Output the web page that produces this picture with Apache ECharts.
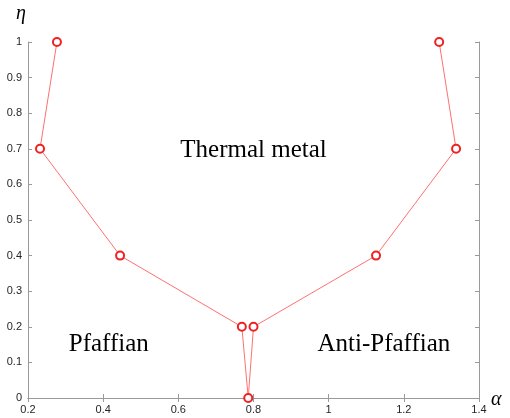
<!DOCTYPE html>
<html><head><meta charset="utf-8">
<script src="https://cdn.jsdelivr.net/npm/echarts@6/dist/echarts.min.js"></script>
<style>html,body{margin:0;padding:0;background:#fff}#c{width:510px;height:418px}</style>
</head><body><div id="c"></div>
<script>
const alphaVals = [0.277, 0.232, 0.445, 0.769, 0.786, 0.800, 1.126, 1.339, 1.294];
const etaVals   = [1.0,   0.7,   0.4,   0.2,   0.0,   0.2,   0.4,   0.7,   1.0];
const regionText = ['Thermal metal', 'Pfaffian', 'Anti-Pfaffian'];
const regionX = [0.8, 0.415, 1.147];
const regionY = [0.695, 0.15, 0.15];

const chart = echarts.init(document.getElementById('c'));
const axisLine = {show: true, lineStyle: {color: '#9a9a9a', width: 1}};
const tickStyle = {show: true, inside: true, length: 4, lineStyle: {color: '#9a9a9a'}};
const labelStyle = {color: '#262626', fontSize: 11, fontFamily: 'Liberation Sans, Arial, sans-serif'};
const data = alphaVals.map((a, i) => [a, etaVals[i]]);

chart.setOption({
  animation: false,
  grid: {left: 28, right: 31, top: 42, bottom: 20, containLabel: false, outerBoundsMode: 'none'},
  xAxis: [
    {type: 'value', min: 0.2, max: 1.4, interval: 0.2, position: 'bottom',
     axisLine, axisTick: tickStyle, splitLine: {show: false},
     axisLabel: Object.assign({margin: 6, formatter: v => String(+v.toFixed(1))}, labelStyle)},
    {type: 'value', min: 0.2, max: 1.4, interval: 0.2, position: 'top',
     axisLine, axisTick: tickStyle, splitLine: {show: false}, axisLabel: {show: false}}
  ],
  yAxis: [
    {type: 'value', min: 0, max: 1, interval: 0.1, position: 'left',
     axisLine, axisTick: tickStyle, splitLine: {show: false},
     axisLabel: Object.assign({margin: 6, formatter: v => String(+v.toFixed(1))}, labelStyle)},
    {type: 'value', min: 0, max: 1, interval: 0.1, position: 'right',
     axisLine, axisTick: tickStyle, splitLine: {show: false}, axisLabel: {show: false}}
  ],
  series: [
    {type: 'line', data, symbol: 'emptyCircle', symbolSize: 8,
     lineStyle: {color: '#ff7070', width: 1},
     itemStyle: {color: '#ee2222', borderWidth: 0.9},
     z: 5}
  ]
});

const texts = regionText.map((t, i) => {
  const p = chart.convertToPixel({gridIndex: 0}, [regionX[i], regionY[i]]);
  return {type: 'text', x: p[0], y: p[1],
    style: {text: t, font: '25px "Liberation Serif", "Times New Roman", serif', fill: '#000',
      align: 'center', verticalAlign: 'middle'}};
});
texts.push({type: 'text', left: 16, top: 4, style: {text: 'η', font: 'italic 20px "Liberation Serif", serif', fill: '#000'}});
texts.push({type: 'text', left: 491, top: 390, style: {text: 'α', font: 'italic 20px "Liberation Serif", serif', fill: '#000'}});
chart.setOption({graphic: texts});
</script></body></html>
